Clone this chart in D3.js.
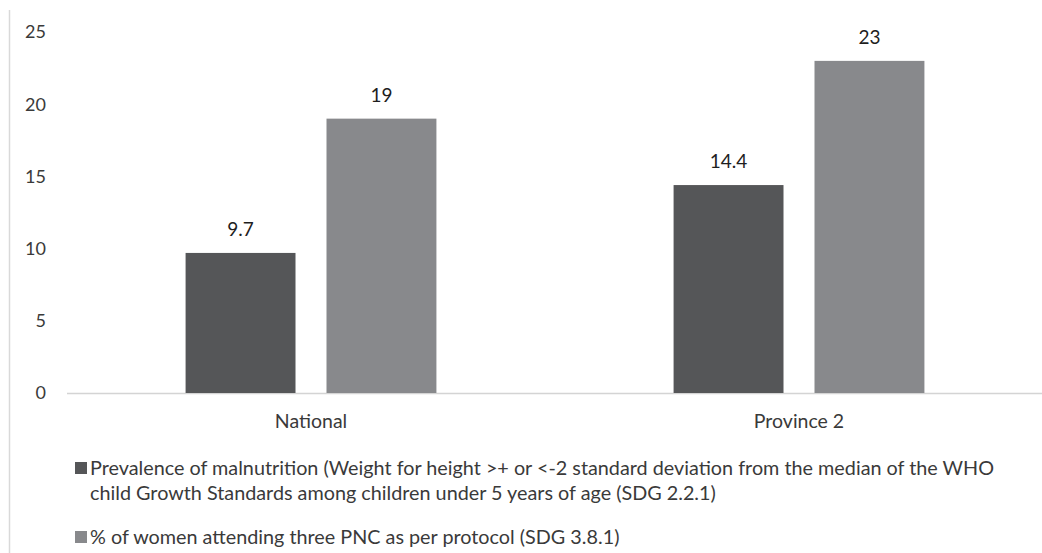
<!DOCTYPE html>
<html>
<head>
<meta charset="utf-8">
<script src="https://cdn.jsdelivr.net/npm/d3@7"></script>
<style>
  html, body { margin: 0; padding: 0; background: #fff; }
  svg { display: block; font-family: Lato, "Open Sans", sans-serif; }
</style>
</head>
<body>
<svg id="chart" width="1042" height="553"></svg>
<script>
// Chart data
const categories = ["National", "Province 2"];
const seriesNames = [
  "Prevalence of malnutrition (Weight for height >+ or <-2 standard deviation from the median of the WHO child Growth Standards among children under 5 years of age (SDG 2.2.1)",
  "% of women attending three PNC as per protocol (SDG 3.8.1)"
];
const malnutrition = [9.7, 14.4];
const pncAttendance = [19, 23];
const yTicks = [0, 5, 10, 15, 20, 25];
const seriesColors = ["#555658", "#88898c"];

const legendLines = [
  ["Prevalence of malnutrition (Weight for height >+ or <-2 standard deviation from the median of the WHO",
   "child Growth Standards among children under 5 years of age (SDG 2.2.1)"],
  ["% of women attending three PNC as per protocol (SDG 3.8.1)"]
];

const svg = d3.select("#chart");
const W = 1042, H = 553;
const plotLeft = 67, plotRight = 1043, plotTop = 32, plotBottom = 393;

// Outer frame line on the left
svg.append("line")
  .attr("x1", 9.5).attr("x2", 9.5)
  .attr("y1", 10).attr("y2", H)
  .attr("stroke", "#d9d9d9").attr("stroke-width", 1.5);

const x0 = d3.scaleBand().domain(categories).range([plotLeft, plotRight]);
const bw = x0.bandwidth();
const seriesKeys = [0, 1];
// Bars occupy the central ~51% of each category band
const x1 = d3.scaleBand().domain(seriesKeys)
  .range([bw * 0.243, bw * 0.757])
  .paddingInner(0.22);
const y = d3.scaleLinear().domain([0, 25]).range([plotBottom, plotTop]);

// Y tick labels (no axis line)
svg.append("g").selectAll("text").data(yTicks).join("text")
  .attr("x", 46).attr("y", d => y(d))
  .attr("dy", "0.35em")
  .attr("text-anchor", "end")
  .attr("font-size", 18)
  .attr("fill", "#3a3a3a")
  .text(d => d);

// Baseline
svg.append("line")
  .attr("x1", plotLeft).attr("x2", W)
  .attr("y1", plotBottom + 0.5).attr("y2", plotBottom + 0.5)
  .attr("stroke", "#d4d4d4").attr("stroke-width", 1.5);

const rows = categories.map((c, i) => ({ cat: c, vals: [malnutrition[i], pncAttendance[i]] }));

const groups = svg.append("g").selectAll("g").data(rows).join("g")
  .attr("transform", d => `translate(${x0(d.cat)},0)`);

groups.selectAll("rect").data(d => d.vals.map((v, k) => ({ v, k }))).join("rect")
  .attr("x", d => x1(d.k))
  .attr("width", x1.bandwidth())
  .attr("y", d => y(d.v))
  .attr("height", d => plotBottom - y(d.v))
  .attr("fill", d => seriesColors[d.k]);

groups.selectAll("text.val").data(d => d.vals.map((v, k) => ({ v, k }))).join("text")
  .attr("class", "val")
  .attr("x", d => x1(d.k) + x1.bandwidth() / 2)
  .attr("y", d => y(d.v) - 17)
  .attr("text-anchor", "middle")
  .attr("font-size", 19)
  .attr("fill", "#1e1e1e")
  .text(d => d.v);

// Category labels
svg.append("g").selectAll("text").data(categories).join("text")
  .attr("x", d => x0(d) + bw / 2)
  .attr("y", 421)
  .attr("dy", "0.35em")
  .attr("text-anchor", "middle")
  .attr("font-size", 19.5)
  .attr("fill", "#3a3a3a")
  .text(d => d);

// Legend
const legendY = [468, 537];
legendLines.forEach((lines, i) => {
  svg.append("rect")
    .attr("x", 75).attr("y", legendY[i] - 6)
    .attr("width", 12).attr("height", 12)
    .attr("fill", seriesColors[i]);
  lines.forEach((ln, j) => {
    svg.append("text")
      .attr("x", 90).attr("y", legendY[i] + j * 25)
      .attr("dy", "0.35em")
      .attr("font-size", 19.8)
      .attr("fill", "#3a3a3a")
      .text(ln);
  });
});
</script>
</body>
</html>
